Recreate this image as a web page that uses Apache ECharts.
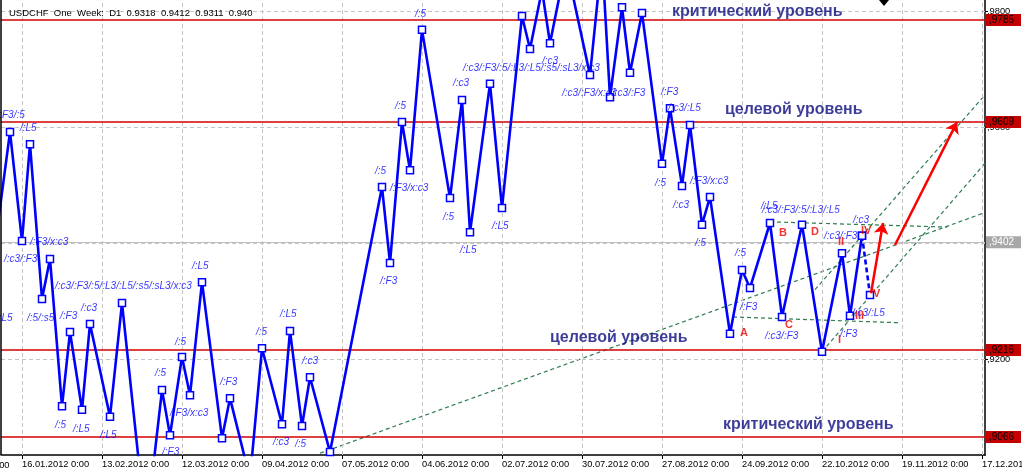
<!DOCTYPE html>
<html>
<head>
<meta charset="utf-8">
<script src="https://cdn.jsdelivr.net/npm/echarts@6/dist/echarts.min.js"></script>
<style>html,body{margin:0;padding:0;background:#fff}#c{width:1022px;height:473px}</style>
</head>
<body>
<div id="c"></div>
<script>
// ---- data ----
// x axis: trading-day index (0 = 16.01.2012), y: USDCHF price
const tickIdx = [0, 20, 40, 60, 80, 100, 120, 140, 160, 180, 200, 220, 240];
const tickLabels = ['16.01.2012 0:00','13.02.2012 0:00','12.03.2012 0:00','09.04.2012 0:00','07.05.2012 0:00','04.06.2012 0:00','02.07.2012 0:00','30.07.2012 0:00','27.08.2012 0:00','24.09.2012 0:00','22.10.2012 0:00','19.11.2012 0:00','17.12.2012 0:00'];
const priceTicks = [0.92, 0.94, 0.96, 0.98];

const zzIdx = [-6, -3, 0, 2, 5, 7, 10, 12, 15, 17, 22, 25, 31, 35, 37, 40, 42, 45, 50, 52, 57, 60, 65, 67, 70, 72, 77, 90, 92, 95, 97, 100, 107, 110, 112, 117, 120, 125, 127, 130, 132, 136, 142, 145, 147, 150, 152, 155, 160, 162, 165, 167, 170, 172, 177, 180, 182, 187, 190, 195, 200, 205, 207, 210];
const zzPrice = [0.9435, 0.9592, 0.9404, 0.9571, 0.9304, 0.9373, 0.9119, 0.9247, 0.9113, 0.9261, 0.9101, 0.9297, 0.8906, 0.9147, 0.9069, 0.9204, 0.9138, 0.9333, 0.9064, 0.9133, 0.8994, 0.9219, 0.9088, 0.9249, 0.9085, 0.9169, 0.9040, 0.9497, 0.9366, 0.9609, 0.9526, 0.9768, 0.9478, 0.9647, 0.9419, 0.9675, 0.9461, 0.9792, 0.9735, 0.9837, 0.9745, 0.9882, 0.9690, 0.9894, 0.9652, 0.9807, 0.9694, 0.9797, 0.9537, 0.9633, 0.9499, 0.9604, 0.9432, 0.9480, 0.9244, 0.9354, 0.9323, 0.9435, 0.9273, 0.9432, 0.9213, 0.9383, 0.9275, 0.9413];
const zzLastIdx = [210, 212];
const zzLastPrice = [0.9413, 0.9311];

const levelPrices = [0.9785, 0.9609, 0.9216, 0.9066];
const bidPrice = 0.9402;

const trendFrom = [[74.5, 0.9038], [177.75, 0.9273], [187, 0.9437], [198.25, 0.9320], [200, 0.9213]];
const trendTo   = [[240.75, 0.9453], [219.5, 0.9263], [231.25, 0.9428], [240.75, 0.9656], [240.75, 0.9538]];

const arrowFrom = [[212.25, 0.9314], [218.25, 0.9397]];
const arrowTo   = [[215.25, 0.9435], [233.75, 0.9609]];

const waveText = ['/:F3/:5','/:L5','/:F3/x:c3','/:c3/:F3','/:L5','/:5/:s5','/:c3/:F3/:5/:L3/:L5/:s5/:sL3/x:c3','/:F3','/:c3','/:5','/:L5','/:L5','/:L5','/:5','/:F3/x:c3','/:F3','/:5','/:F3','/:5','/:L5','/:c3','/:c3','/:5','/:F3','/:F3/x:c3','/:5','/:L5','/:L5','/:5','/:5','/:5','/:c3','/:c3/:F3/:5/:L3/:L5/:s5/:sL3/x:c3','/:c3','/:c3/:F3/x:c3','/:c3/:F3','/:F3','/:c3/:L5','/:5','/:F3/x:c3','/:c3','/:5','/:5','/:F3','/:L5','/:c3/:F3/:5/:L3/:L5','/:c3/:F3','/:c3/:F3','/:c3','/:F3','/:c3/:L5'];
const waveIdx = [-6.4,-0.5,2,-4.5,-6.5,1.25,8.25,9.5,14.75,8.25,12.75,19.5,42.5,33.25,37,35,38.25,49.5,58.5,64.5,70,62.75,68.25,89.5,92,105.25,109.5,117.5,98.25,93.25,88.25,107.75,110.25,130,135,147.5,159.75,161.5,158.25,167,162.75,168.25,178.25,179.5,184.75,185,185.75,200.5,207.75,204.5,207.5];
const wavePrice = [0.9620,0.9599,0.9402,0.9373,0.9271,0.9271,0.9326,0.9275,0.9288,0.9087,0.9080,0.9069,0.9361,0.9176,0.9107,0.9040,0.9230,0.9161,0.9247,0.9278,0.9197,0.9057,0.9054,0.9335,0.9495,0.9445,0.9388,0.9430,0.9795,0.9637,0.9525,0.9676,0.9702,0.9714,0.9659,0.9659,0.9661,0.9633,0.9504,0.9507,0.9466,0.9401,0.9383,0.9290,0.9464,0.9457,0.9240,0.9413,0.9440,0.9244,0.9280];

const countText = ['A','B','C','D','I','II','III','IV','V'];
const countIdx = [179.5, 189.25, 190.75, 197.25, 204, 204, 208.25, 209.75, 212.75];
const countPrice = [0.9245, 0.9418, 0.9259, 0.9420, 0.9233, 0.9402, 0.9275, 0.9421, 0.9313];

const noteText = ['критический уровень', 'целевой уровень', 'целевой уровень', 'критический уровень'];
const noteIdx = [162.5, 175.75, 132, 175.25];
const notePrice = [0.9800, 0.9631, 0.9238, 0.9087];

const headerText = 'USDCHF  One  Week:  D1  0.9318  0.9412  0.9311  0.940';

// ---- chart ----
const FONT = '"Liberation Sans", Arial, sans-serif';
const chart = echarts.init(document.getElementById('c'), null, {renderer: 'canvas'});

function pts(xs, ys, names) {
  return xs.map((x, i) => names ? {value: [x, ys[i]], name: names[i]} : [x, ys[i]]);
}
function priceTag(p) { return ',' + Math.round(p * 10000); }

const gridLines = tickIdx.map(v => ({xAxis: v})).concat(priceTicks.map(v => ({yAxis: v})));

const tagStyle = {show: true, position: 'end', distance: 1, fontSize: 10, fontFamily: FONT, width: 32, padding: [1, 0, 0, 3], lineHeight: 11};
const levelLines = levelPrices.map(p => ({
  yAxis: p,
  lineStyle: {color: '#d00000', width: 1.5, type: 'solid'},
  label: Object.assign({formatter: priceTag(p), backgroundColor: '#c40000', color: '#000'}, tagStyle)
})).concat([{
  yAxis: bidPrice,
  lineStyle: {color: '#c0c0c0', width: 1, type: 'solid'},
  label: Object.assign({formatter: priceTag(bidPrice), backgroundColor: '#a8a8a8', color: '#fff'}, tagStyle)
}]);

function labelSeries(xs, ys, names, style, z) {
  return {
    type: 'scatter', data: pts(xs, ys, names), symbolSize: 0, clip: false, silent: true, z: z || 10,
    label: Object.assign({show: true, position: [0, 0], align: 'left', verticalAlign: 'middle', formatter: p => p.name}, style)
  };
}

const option = {
  animation: false,
  backgroundColor: '#ffffff',
  grid: {left: 1, right: 37, top: 0, bottom: 18, show: false, containLabel: false, outerBoundsMode: 'none'},
  xAxis: {
    type: 'value', min: -5.25, max: 240.75,
    axisLine: {show: true, onZero: false, lineStyle: {color: '#000', width: 1.5}},
    axisTick: {show: true, customValues: tickIdx, length: 4, lineStyle: {color: '#000'}},
    axisLabel: {customValues: tickIdx, formatter: v => tickLabels[tickIdx.indexOf(v)], align: 'left', margin: 5, color: '#000', fontSize: 9.3, fontFamily: FONT},
    splitLine: {show: false}
  },
  yAxis: {
    type: 'value', position: 'right', min: 0.9035, max: 0.98195,
    axisLine: {show: true, onZero: false, lineStyle: {color: '#000', width: 1.5}},
    axisTick: {show: true, customValues: priceTicks, length: 3, inside: false, lineStyle: {color: '#000'}},
    axisLabel: {show: true, customValues: priceTicks, formatter: v => ',' + Math.round(v * 10000), margin: 2, color: '#000', fontSize: 9.3, fontFamily: FONT, padding: [5, 0, 0, 0]},
    splitLine: {show: false}
  },
  graphic: [
    {type: 'text', left: 9, top: 8, style: {text: headerText, font: '9.5px ' + FONT, fill: '#000'}, z: 100},
    {type: 'text', x: -57, y: 461, style: {text: '19.12.2011 0:00', font: '9.3px ' + FONT, fill: '#000'}, z: 100},
    {type: 'polygon', shape: {points: [[879, 0], [889, 0], [884, 6]]}, style: {fill: '#000'}, z: 100},
    {type: 'line', shape: {x1: 1, y1: 0, x2: 1, y2: 455}, style: {stroke: '#000', lineWidth: 1.5}, z: 100}
  ],
  series: [
    {
      name: 'grid', type: 'line', data: [], z: 1, silent: true,
      markLine: {symbol: 'none', silent: true, precision: 5, label: {show: false}, lineStyle: {color: '#c4c4c4', type: [4, 3], width: 1}, data: gridLines}
    },
    {
      name: 'levels', type: 'line', data: [], z: 3, silent: true,
      markLine: {symbol: 'none', silent: true, precision: 5, data: levelLines}
    },
    {
      name: 'trend', type: 'lines', coordinateSystem: 'cartesian2d', z: 4, silent: true, clip: true,
      lineStyle: {color: '#2e7d4f', width: 1.2, type: [4, 3], opacity: 1},
      data: trendFrom.map((f, i) => ({coords: [f, trendTo[i]]}))
    },
    {
      name: 'zigzag', type: 'line', data: pts(zzIdx, zzPrice), z: 6, silent: true,
      symbol: 'rect', symbolSize: 7, showAllSymbol: true,
      lineStyle: {color: '#0000ff', width: 2.6},
      itemStyle: {color: '#ffffff', borderColor: '#0000ff', borderWidth: 1.5}
    },
    {
      name: 'zigzagLast', type: 'line', data: pts(zzLastIdx, zzLastPrice), z: 6, silent: true,
      symbol: 'rect', symbolSize: 7, showAllSymbol: true,
      lineStyle: {color: '#0000ff', width: 2.6, type: [5, 3]},
      itemStyle: {color: '#ffffff', borderColor: '#0000ff', borderWidth: 1.5}
    },
    {
      name: 'arrows', type: 'lines', coordinateSystem: 'cartesian2d', z: 7, silent: true,
      symbol: ['none', 'arrow'], symbolSize: 11,
      lineStyle: {color: '#ff0000', width: 2.5, opacity: 1},
      data: arrowFrom.map((f, i) => ({coords: [f, arrowTo[i]]}))
    },
    labelSeries(waveIdx, wavePrice, waveText, {color: '#0000ff', fontSize: 10, fontStyle: 'italic', fontFamily: FONT}, 8),
    labelSeries(countIdx, countPrice, countText, {color: '#ee0000', fontSize: 11, fontWeight: 'bold', fontFamily: FONT}, 9),
    labelSeries(noteIdx, notePrice, noteText, {color: '#0c0c80', fontSize: 16, fontWeight: 'bold', fontFamily: FONT}, 9)
  ]
};
chart.setOption(option);
</script>
</body>
</html>
